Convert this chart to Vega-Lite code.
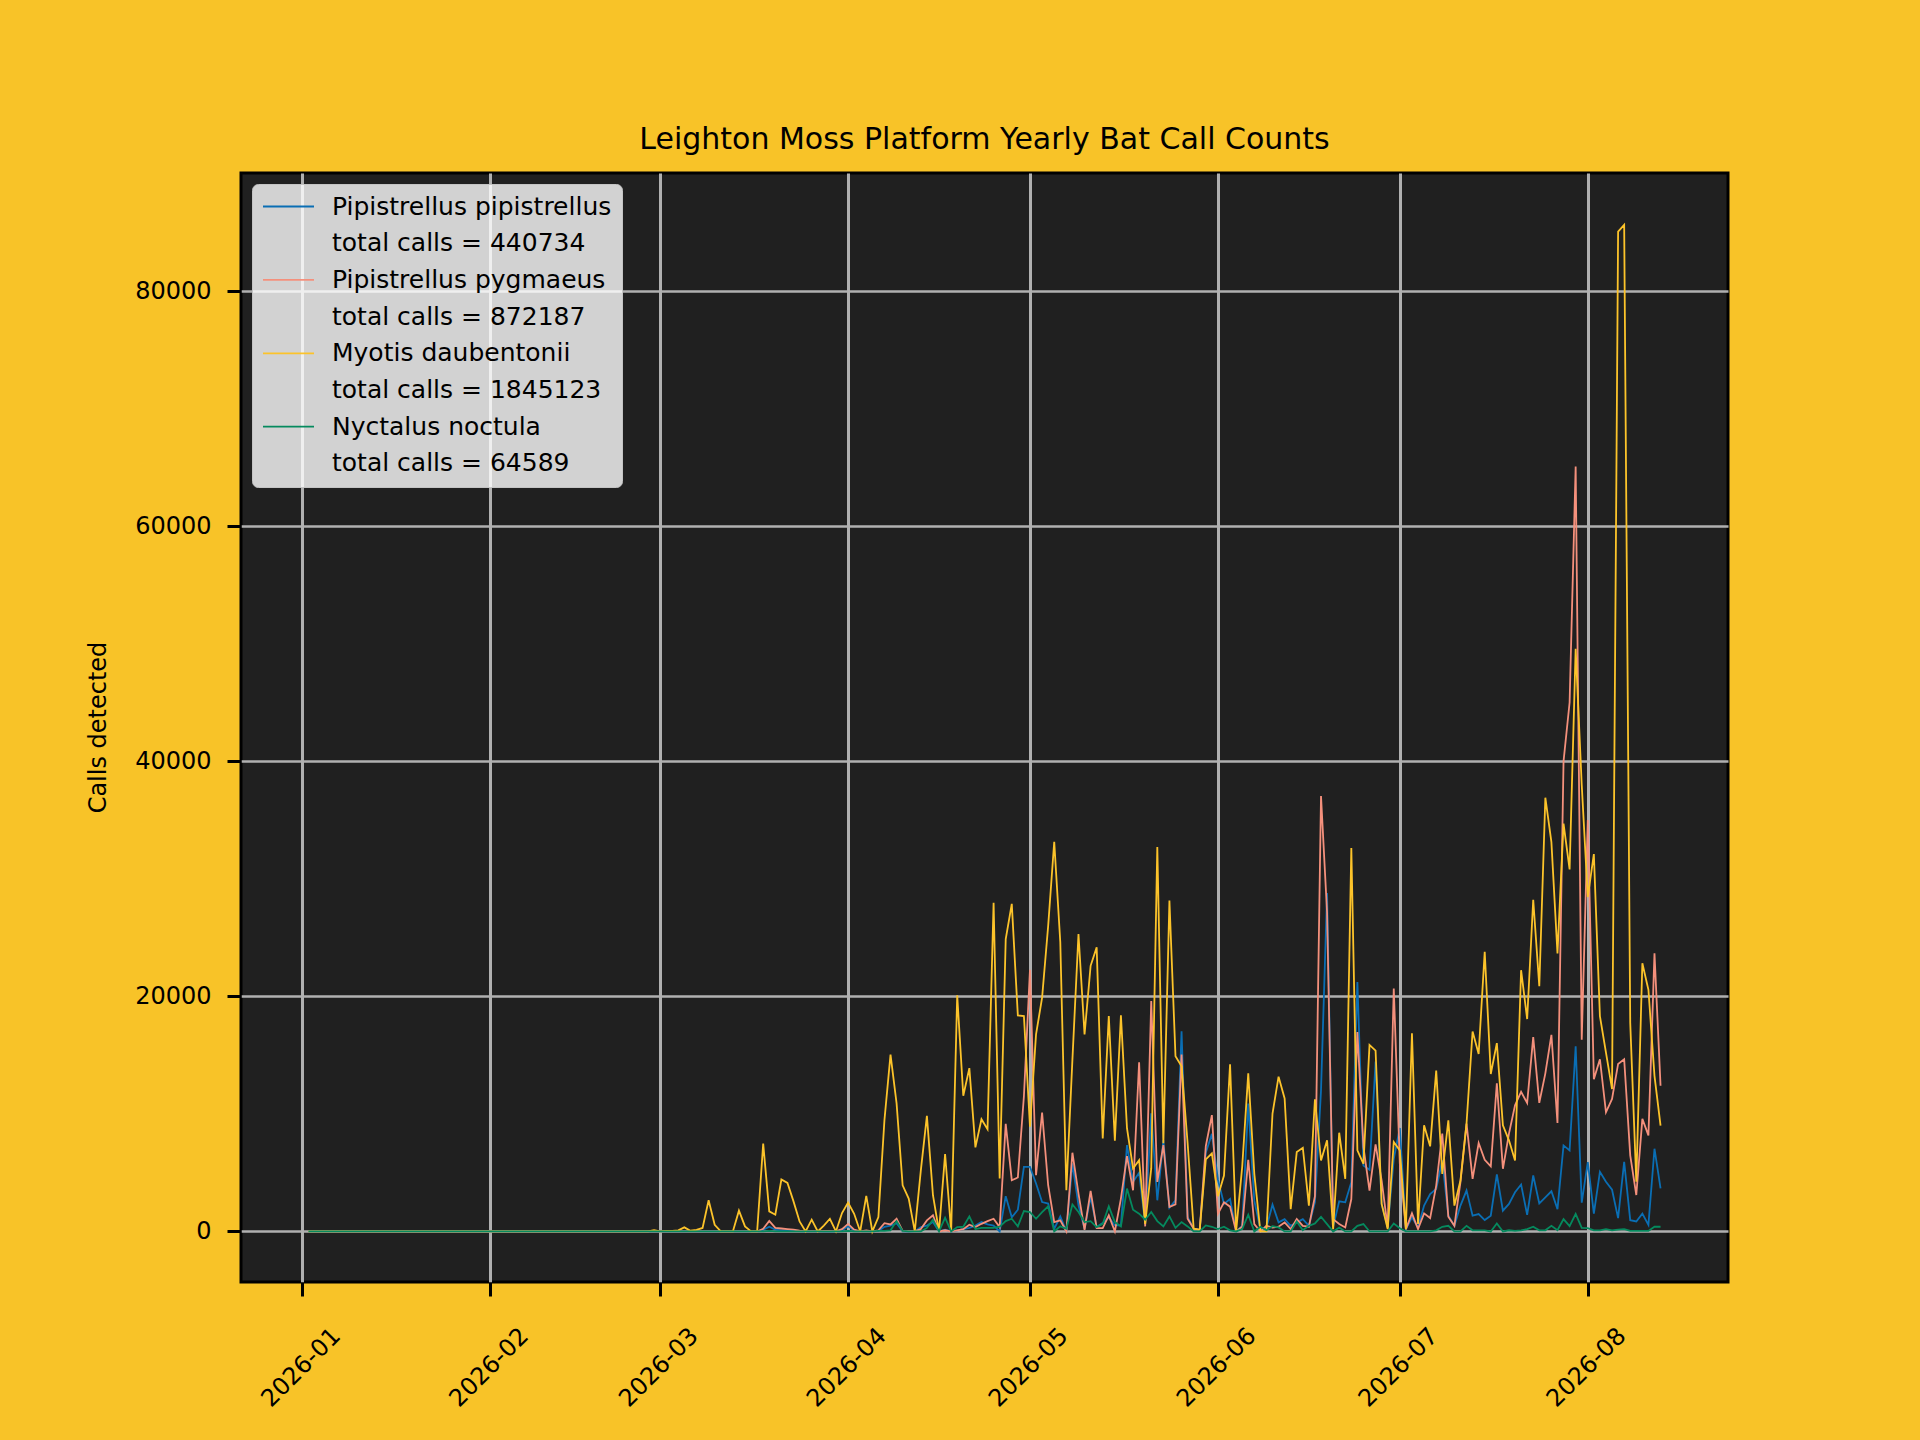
{
  "$schema": "https://vega.github.io/schema/vega-lite/v6.json",
  "width": 1487,
  "height": 1109,
  "autosize": {"type": "none"},
  "padding": {"left": 241, "top": 173, "right": 192, "bottom": 158},
  "background": "#f8c328",
  "config": {
    "font": "DejaVu Sans",
    "view": {"fill": "#202020", "stroke": "black", "strokeWidth": 3},
    "axis": {
      "domain": false,
      "grid": true,
      "gridColor": "#b0b0b0",
      "gridWidth": 2.5,
      "tickColor": "black",
      "tickWidth": 3,
      "tickSize": 14,
      "labelFont": "DejaVu Sans",
      "labelFontSize": 24,
      "labelColor": "black",
      "titleFont": "DejaVu Sans",
      "titleFontSize": 24,
      "titleFontWeight": "normal",
      "titleColor": "black"
    }
  },
  "title": {
    "text": "Leighton Moss Platform Yearly Bat Call Counts",
    "font": "DejaVu Sans",
    "fontSize": 30,
    "fontWeight": "normal",
    "color": "black",
    "anchor": "middle",
    "baseline": "alphabetic",
    "offset": 26,
    "dy": 31.5
  },
  "data": {
    "values": [
      {"date": "2026-01-02", "pip": 0, "pyg": 0, "dau": 0, "noc": 0},
      {"date": "2026-01-03", "pip": 0, "pyg": 0, "dau": 0, "noc": 0},
      {"date": "2026-01-04", "pip": 0, "pyg": 0, "dau": 0, "noc": 0},
      {"date": "2026-01-05", "pip": 0, "pyg": 0, "dau": 0, "noc": 0},
      {"date": "2026-01-06", "pip": 0, "pyg": 0, "dau": 0, "noc": 0},
      {"date": "2026-01-07", "pip": 0, "pyg": 0, "dau": 0, "noc": 0},
      {"date": "2026-01-08", "pip": 0, "pyg": 0, "dau": 0, "noc": 0},
      {"date": "2026-01-09", "pip": 0, "pyg": 0, "dau": 0, "noc": 0},
      {"date": "2026-01-10", "pip": 0, "pyg": 0, "dau": 0, "noc": 0},
      {"date": "2026-01-11", "pip": 0, "pyg": 0, "dau": 0, "noc": 0},
      {"date": "2026-01-12", "pip": 0, "pyg": 0, "dau": 0, "noc": 0},
      {"date": "2026-01-13", "pip": 0, "pyg": 0, "dau": 0, "noc": 0},
      {"date": "2026-01-14", "pip": 0, "pyg": 0, "dau": 0, "noc": 0},
      {"date": "2026-01-15", "pip": 0, "pyg": 0, "dau": 0, "noc": 0},
      {"date": "2026-01-16", "pip": 0, "pyg": 0, "dau": 0, "noc": 0},
      {"date": "2026-01-17", "pip": 0, "pyg": 0, "dau": 0, "noc": 0},
      {"date": "2026-01-18", "pip": 0, "pyg": 0, "dau": 0, "noc": 0},
      {"date": "2026-01-19", "pip": 0, "pyg": 0, "dau": 0, "noc": 0},
      {"date": "2026-01-20", "pip": 0, "pyg": 0, "dau": 0, "noc": 0},
      {"date": "2026-01-21", "pip": 0, "pyg": 0, "dau": 0, "noc": 0},
      {"date": "2026-01-22", "pip": 0, "pyg": 0, "dau": 0, "noc": 0},
      {"date": "2026-01-23", "pip": 0, "pyg": 0, "dau": 0, "noc": 0},
      {"date": "2026-01-24", "pip": 0, "pyg": 0, "dau": 0, "noc": 0},
      {"date": "2026-01-25", "pip": 0, "pyg": 0, "dau": 0, "noc": 0},
      {"date": "2026-01-26", "pip": 0, "pyg": 0, "dau": 0, "noc": 0},
      {"date": "2026-01-27", "pip": 0, "pyg": 0, "dau": 0, "noc": 0},
      {"date": "2026-01-28", "pip": 0, "pyg": 0, "dau": 0, "noc": 0},
      {"date": "2026-01-29", "pip": 0, "pyg": 0, "dau": 0, "noc": 0},
      {"date": "2026-01-30", "pip": 0, "pyg": 0, "dau": 0, "noc": 0},
      {"date": "2026-01-31", "pip": 0, "pyg": 0, "dau": 0, "noc": 0},
      {"date": "2026-02-01", "pip": 0, "pyg": 0, "dau": 0, "noc": 0},
      {"date": "2026-02-02", "pip": 0, "pyg": 0, "dau": 0, "noc": 0},
      {"date": "2026-02-03", "pip": 0, "pyg": 0, "dau": 0, "noc": 0},
      {"date": "2026-02-04", "pip": 0, "pyg": 0, "dau": 0, "noc": 0},
      {"date": "2026-02-05", "pip": 0, "pyg": 0, "dau": 0, "noc": 0},
      {"date": "2026-02-06", "pip": 0, "pyg": 0, "dau": 0, "noc": 0},
      {"date": "2026-02-07", "pip": 0, "pyg": 0, "dau": 0, "noc": 0},
      {"date": "2026-02-08", "pip": 0, "pyg": 0, "dau": 0, "noc": 0},
      {"date": "2026-02-09", "pip": 0, "pyg": 0, "dau": 0, "noc": 0},
      {"date": "2026-02-10", "pip": 0, "pyg": 0, "dau": 0, "noc": 0},
      {"date": "2026-02-11", "pip": 0, "pyg": 0, "dau": 0, "noc": 0},
      {"date": "2026-02-12", "pip": 0, "pyg": 0, "dau": 0, "noc": 0},
      {"date": "2026-02-13", "pip": 0, "pyg": 0, "dau": 0, "noc": 0},
      {"date": "2026-02-14", "pip": 0, "pyg": 0, "dau": 0, "noc": 0},
      {"date": "2026-02-15", "pip": 0, "pyg": 0, "dau": 0, "noc": 0},
      {"date": "2026-02-16", "pip": 0, "pyg": 0, "dau": 0, "noc": 0},
      {"date": "2026-02-17", "pip": 0, "pyg": 0, "dau": 0, "noc": 0},
      {"date": "2026-02-18", "pip": 0, "pyg": 0, "dau": 0, "noc": 0},
      {"date": "2026-02-19", "pip": 0, "pyg": 0, "dau": 0, "noc": 0},
      {"date": "2026-02-20", "pip": 0, "pyg": 0, "dau": 0, "noc": 0},
      {"date": "2026-02-21", "pip": 0, "pyg": 0, "dau": 0, "noc": 0},
      {"date": "2026-02-22", "pip": 0, "pyg": 0, "dau": 0, "noc": 0},
      {"date": "2026-02-23", "pip": 0, "pyg": 0, "dau": 0, "noc": 0},
      {"date": "2026-02-24", "pip": 0, "pyg": 0, "dau": 0, "noc": 0},
      {"date": "2026-02-25", "pip": 0, "pyg": 0, "dau": 0, "noc": 0},
      {"date": "2026-02-26", "pip": 0, "pyg": 0, "dau": 0, "noc": 0},
      {"date": "2026-02-27", "pip": 0, "pyg": 0, "dau": 0, "noc": 0},
      {"date": "2026-02-28", "pip": 0, "pyg": 0, "dau": 100, "noc": 0},
      {"date": "2026-03-01", "pip": 0, "pyg": 0, "dau": 0, "noc": 0},
      {"date": "2026-03-02", "pip": 0, "pyg": 0, "dau": 50, "noc": 0},
      {"date": "2026-03-03", "pip": 0, "pyg": 0, "dau": 40, "noc": 0},
      {"date": "2026-03-04", "pip": 0, "pyg": 0, "dau": 100, "noc": 0},
      {"date": "2026-03-05", "pip": 0, "pyg": 0, "dau": 350, "noc": 0},
      {"date": "2026-03-06", "pip": 0, "pyg": 0, "dau": 60, "noc": 0},
      {"date": "2026-03-07", "pip": 0, "pyg": 0, "dau": 140, "noc": 0},
      {"date": "2026-03-08", "pip": 0, "pyg": 0, "dau": 300, "noc": 0},
      {"date": "2026-03-09", "pip": 0, "pyg": 0, "dau": 2650, "noc": 0},
      {"date": "2026-03-10", "pip": 0, "pyg": 0, "dau": 570, "noc": 0},
      {"date": "2026-03-11", "pip": 0, "pyg": 0, "dau": 0, "noc": 0},
      {"date": "2026-03-12", "pip": 0, "pyg": 0, "dau": 0, "noc": 0},
      {"date": "2026-03-13", "pip": 0, "pyg": 0, "dau": 0, "noc": 0},
      {"date": "2026-03-14", "pip": 0, "pyg": 0, "dau": 1770, "noc": 0},
      {"date": "2026-03-15", "pip": 0, "pyg": 0, "dau": 430, "noc": 0},
      {"date": "2026-03-16", "pip": 0, "pyg": 0, "dau": 0, "noc": 0},
      {"date": "2026-03-17", "pip": 0, "pyg": 0, "dau": 0, "noc": 0},
      {"date": "2026-03-18", "pip": 150, "pyg": 230, "dau": 7470, "noc": 0},
      {"date": "2026-03-19", "pip": 400, "pyg": 900, "dau": 1710, "noc": 50},
      {"date": "2026-03-20", "pip": 150, "pyg": 300, "dau": 1425, "noc": 0},
      {"date": "2026-03-21", "pip": 100, "pyg": 250, "dau": 4420, "noc": 0},
      {"date": "2026-03-22", "pip": 80, "pyg": 200, "dau": 4130, "noc": 0},
      {"date": "2026-03-23", "pip": 50, "pyg": 150, "dau": 2560, "noc": 0},
      {"date": "2026-03-24", "pip": 30, "pyg": 60, "dau": 855, "noc": 0},
      {"date": "2026-03-25", "pip": 0, "pyg": 0, "dau": 0, "noc": 0},
      {"date": "2026-03-26", "pip": 0, "pyg": 30, "dau": 1000, "noc": 0},
      {"date": "2026-03-27", "pip": 0, "pyg": 0, "dau": 0, "noc": 0},
      {"date": "2026-03-28", "pip": 0, "pyg": 40, "dau": 500, "noc": 0},
      {"date": "2026-03-29", "pip": 0, "pyg": 50, "dau": 1080, "noc": 0},
      {"date": "2026-03-30", "pip": 0, "pyg": 0, "dau": 0, "noc": 0},
      {"date": "2026-03-31", "pip": 100, "pyg": 200, "dau": 1570, "noc": 0},
      {"date": "2026-04-01", "pip": 450, "pyg": 640, "dau": 2450, "noc": 50},
      {"date": "2026-04-02", "pip": 100, "pyg": 150, "dau": 1500, "noc": 0},
      {"date": "2026-04-03", "pip": 0, "pyg": 0, "dau": 0, "noc": 0},
      {"date": "2026-04-04", "pip": 50, "pyg": 80, "dau": 3020, "noc": 0},
      {"date": "2026-04-05", "pip": 0, "pyg": 0, "dau": 0, "noc": 0},
      {"date": "2026-04-06", "pip": 50, "pyg": 100, "dau": 1220, "noc": 50},
      {"date": "2026-04-07", "pip": 400, "pyg": 700, "dau": 9490, "noc": 50},
      {"date": "2026-04-08", "pip": 500, "pyg": 600, "dau": 15050, "noc": 100},
      {"date": "2026-04-09", "pip": 700, "pyg": 1080, "dau": 10900, "noc": 880},
      {"date": "2026-04-10", "pip": 0, "pyg": 50, "dau": 3930, "noc": 50},
      {"date": "2026-04-11", "pip": 0, "pyg": 30, "dau": 2800, "noc": 0},
      {"date": "2026-04-12", "pip": 0, "pyg": 0, "dau": 0, "noc": 0},
      {"date": "2026-04-13", "pip": 370, "pyg": 200, "dau": 5200, "noc": 0},
      {"date": "2026-04-14", "pip": 500, "pyg": 940, "dau": 9830, "noc": 300},
      {"date": "2026-04-15", "pip": 800, "pyg": 1370, "dau": 3080, "noc": 1000},
      {"date": "2026-04-16", "pip": 0, "pyg": 0, "dau": 0, "noc": 0},
      {"date": "2026-04-17", "pip": 150, "pyg": 100, "dau": 6580, "noc": 1170},
      {"date": "2026-04-18", "pip": 0, "pyg": 0, "dau": 0, "noc": 0},
      {"date": "2026-04-19", "pip": 100, "pyg": 100, "dau": 20090, "noc": 370},
      {"date": "2026-04-20", "pip": 200, "pyg": 200, "dau": 11540, "noc": 400},
      {"date": "2026-04-21", "pip": 300, "pyg": 570, "dau": 13900, "noc": 1280},
      {"date": "2026-04-22", "pip": 500, "pyg": 370, "dau": 7150, "noc": 200},
      {"date": "2026-04-23", "pip": 800, "pyg": 650, "dau": 9550, "noc": 300},
      {"date": "2026-04-24", "pip": 600, "pyg": 880, "dau": 8700, "noc": 300},
      {"date": "2026-04-25", "pip": 500, "pyg": 1080, "dau": 27960, "noc": 300},
      {"date": "2026-04-26", "pip": 0, "pyg": 370, "dau": 4500, "noc": 400},
      {"date": "2026-04-27", "pip": 3000, "pyg": 9150, "dau": 24880, "noc": 880},
      {"date": "2026-04-28", "pip": 1200, "pyg": 4360, "dau": 27870, "noc": 1080},
      {"date": "2026-04-29", "pip": 1850, "pyg": 4590, "dau": 18380, "noc": 430},
      {"date": "2026-04-30", "pip": 5500, "pyg": 11500, "dau": 18330, "noc": 1740},
      {"date": "2026-05-01", "pip": 5500, "pyg": 22260, "dau": 8920, "noc": 1650},
      {"date": "2026-05-02", "pip": 4080, "pyg": 4790, "dau": 16760, "noc": 1080},
      {"date": "2026-05-03", "pip": 2500, "pyg": 10120, "dau": 19900, "noc": 1650},
      {"date": "2026-05-04", "pip": 2370, "pyg": 3930, "dau": 26000, "noc": 2140},
      {"date": "2026-05-05", "pip": 230, "pyg": 800, "dau": 33150, "noc": 0},
      {"date": "2026-05-06", "pip": 1280, "pyg": 940, "dau": 24600, "noc": 430},
      {"date": "2026-05-07", "pip": 0, "pyg": 0, "dau": 3500, "noc": 230},
      {"date": "2026-05-08", "pip": 5790, "pyg": 6700, "dau": 14620, "noc": 2300},
      {"date": "2026-05-09", "pip": 2220, "pyg": 3220, "dau": 25300, "noc": 1650},
      {"date": "2026-05-10", "pip": 230, "pyg": 140, "dau": 16760, "noc": 800},
      {"date": "2026-05-11", "pip": 2940, "pyg": 3450, "dau": 22600, "noc": 880},
      {"date": "2026-05-12", "pip": 370, "pyg": 290, "dau": 24170, "noc": 370},
      {"date": "2026-05-13", "pip": 710, "pyg": 290, "dau": 7920, "noc": 650},
      {"date": "2026-05-14", "pip": 1220, "pyg": 1370, "dau": 18330, "noc": 2140},
      {"date": "2026-05-15", "pip": 510, "pyg": 0, "dau": 7720, "noc": 800},
      {"date": "2026-05-16", "pip": 510, "pyg": 2800, "dau": 18380, "noc": 430},
      {"date": "2026-05-17", "pip": 7350, "pyg": 6410, "dau": 8780, "noc": 3650},
      {"date": "2026-05-18", "pip": 4220, "pyg": 3500, "dau": 5360, "noc": 1850},
      {"date": "2026-05-19", "pip": 5000, "pyg": 14400, "dau": 6070, "noc": 1510},
      {"date": "2026-05-20", "pip": 650, "pyg": 430, "dau": 650, "noc": 1000},
      {"date": "2026-05-21", "pip": 10060, "pyg": 19600, "dau": 5360, "noc": 1650},
      {"date": "2026-05-22", "pip": 2650, "pyg": 4220, "dau": 32700, "noc": 880},
      {"date": "2026-05-23", "pip": 7780, "pyg": 7350, "dau": 7500, "noc": 430},
      {"date": "2026-05-24", "pip": 2020, "pyg": 2080, "dau": 28160, "noc": 1280},
      {"date": "2026-05-25", "pip": 2650, "pyg": 2300, "dau": 14900, "noc": 310},
      {"date": "2026-05-26", "pip": 17040, "pyg": 15050, "dau": 14050, "noc": 800},
      {"date": "2026-05-27", "pip": 1220, "pyg": 1080, "dau": 7500, "noc": 430},
      {"date": "2026-05-28", "pip": 230, "pyg": 230, "dau": 230, "noc": 0},
      {"date": "2026-05-29", "pip": 140, "pyg": 140, "dau": 140, "noc": 0},
      {"date": "2026-05-30", "pip": 6700, "pyg": 7270, "dau": 6130, "noc": 510},
      {"date": "2026-05-31", "pip": 8300, "pyg": 9900, "dau": 6640, "noc": 400},
      {"date": "2026-06-01", "pip": 4400, "pyg": 1500, "dau": 3000, "noc": 200},
      {"date": "2026-06-02", "pip": 2340, "pyg": 2480, "dau": 4760, "noc": 400},
      {"date": "2026-06-03", "pip": 2760, "pyg": 2110, "dau": 14220, "noc": 100},
      {"date": "2026-06-04", "pip": 0, "pyg": 0, "dau": 0, "noc": 0},
      {"date": "2026-06-05", "pip": 480, "pyg": 400, "dau": 5500, "noc": 200},
      {"date": "2026-06-06", "pip": 10890, "pyg": 6100, "dau": 13450, "noc": 1420},
      {"date": "2026-06-07", "pip": 2620, "pyg": 630, "dau": 4900, "noc": 0},
      {"date": "2026-06-08", "pip": 200, "pyg": 0, "dau": 0, "noc": 400},
      {"date": "2026-06-09", "pip": 340, "pyg": 480, "dau": 0, "noc": 100},
      {"date": "2026-06-10", "pip": 2280, "pyg": 340, "dau": 10030, "noc": 450},
      {"date": "2026-06-11", "pip": 770, "pyg": 400, "dau": 13170, "noc": 340},
      {"date": "2026-06-12", "pip": 1050, "pyg": 770, "dau": 11310, "noc": 0},
      {"date": "2026-06-13", "pip": 480, "pyg": 200, "dau": 1900, "noc": 0},
      {"date": "2026-06-14", "pip": 770, "pyg": 1050, "dau": 6750, "noc": 850},
      {"date": "2026-06-15", "pip": 1050, "pyg": 480, "dau": 7120, "noc": 100},
      {"date": "2026-06-16", "pip": 480, "pyg": 400, "dau": 2200, "noc": 480},
      {"date": "2026-06-17", "pip": 2500, "pyg": 3000, "dau": 11250, "noc": 680},
      {"date": "2026-06-18", "pip": 12000, "pyg": 37050, "dau": 6040, "noc": 1250},
      {"date": "2026-06-19", "pip": 28800, "pyg": 27130, "dau": 7750, "noc": 630},
      {"date": "2026-06-20", "pip": 400, "pyg": 1050, "dau": 200, "noc": 0},
      {"date": "2026-06-21", "pip": 2570, "pyg": 630, "dau": 8400, "noc": 340},
      {"date": "2026-06-22", "pip": 2480, "pyg": 340, "dau": 4470, "noc": 0},
      {"date": "2026-06-23", "pip": 4190, "pyg": 2760, "dau": 32630, "noc": 0},
      {"date": "2026-06-24", "pip": 21230, "pyg": 16960, "dau": 6900, "noc": 480},
      {"date": "2026-06-25", "pip": 5610, "pyg": 7180, "dau": 5760, "noc": 630},
      {"date": "2026-06-26", "pip": 5240, "pyg": 3480, "dau": 15870, "noc": 0},
      {"date": "2026-06-27", "pip": 14450, "pyg": 7410, "dau": 15390, "noc": 0},
      {"date": "2026-06-28", "pip": 2340, "pyg": 4330, "dau": 2340, "noc": 0},
      {"date": "2026-06-29", "pip": 340, "pyg": 340, "dau": 200, "noc": 0},
      {"date": "2026-06-30", "pip": 6180, "pyg": 20660, "dau": 7610, "noc": 680},
      {"date": "2026-07-01", "pip": 8800, "pyg": 5760, "dau": 6900, "noc": 280},
      {"date": "2026-07-02", "pip": 200, "pyg": 200, "dau": 200, "noc": 0},
      {"date": "2026-07-03", "pip": 1200, "pyg": 1540, "dau": 16870, "noc": 0},
      {"date": "2026-07-04", "pip": 340, "pyg": 200, "dau": 630, "noc": 0},
      {"date": "2026-07-05", "pip": 2200, "pyg": 1540, "dau": 9030, "noc": 0},
      {"date": "2026-07-06", "pip": 3190, "pyg": 1140, "dau": 7240, "noc": 0},
      {"date": "2026-07-07", "pip": 3620, "pyg": 3900, "dau": 13680, "noc": 100},
      {"date": "2026-07-08", "pip": 6040, "pyg": 8320, "dau": 4900, "noc": 400},
      {"date": "2026-07-09", "pip": 1340, "pyg": 1250, "dau": 9460, "noc": 480},
      {"date": "2026-07-10", "pip": 480, "pyg": 480, "dau": 2200, "noc": 0},
      {"date": "2026-07-11", "pip": 2200, "pyg": 4190, "dau": 4330, "noc": 0},
      {"date": "2026-07-12", "pip": 3480, "pyg": 9180, "dau": 9180, "noc": 480},
      {"date": "2026-07-13", "pip": 1340, "pyg": 4470, "dau": 17010, "noc": 100},
      {"date": "2026-07-14", "pip": 1480, "pyg": 7520, "dau": 15100, "noc": 100},
      {"date": "2026-07-15", "pip": 970, "pyg": 6100, "dau": 23800, "noc": 100},
      {"date": "2026-07-16", "pip": 1340, "pyg": 5530, "dau": 13400, "noc": 0},
      {"date": "2026-07-17", "pip": 4850, "pyg": 12600, "dau": 16020, "noc": 680},
      {"date": "2026-07-18", "pip": 1770, "pyg": 5330, "dau": 9030, "noc": 0},
      {"date": "2026-07-19", "pip": 2340, "pyg": 8320, "dau": 7750, "noc": 100},
      {"date": "2026-07-20", "pip": 3330, "pyg": 10740, "dau": 6040, "noc": 50},
      {"date": "2026-07-21", "pip": 3990, "pyg": 11880, "dau": 22230, "noc": 100},
      {"date": "2026-07-22", "pip": 1420, "pyg": 10940, "dau": 18070, "noc": 200},
      {"date": "2026-07-23", "pip": 4760, "pyg": 16530, "dau": 28220, "noc": 400},
      {"date": "2026-07-24", "pip": 2390, "pyg": 10940, "dau": 20860, "noc": 100},
      {"date": "2026-07-25", "pip": 2900, "pyg": 13450, "dau": 36900, "noc": 100},
      {"date": "2026-07-26", "pip": 3420, "pyg": 16730, "dau": 33120, "noc": 480},
      {"date": "2026-07-27", "pip": 1900, "pyg": 9230, "dau": 23660, "noc": 100},
      {"date": "2026-07-28", "pip": 7320, "pyg": 40000, "dau": 34700, "noc": 1050},
      {"date": "2026-07-29", "pip": 6900, "pyg": 45000, "dau": 30800, "noc": 450},
      {"date": "2026-07-30", "pip": 15750, "pyg": 65070, "dau": 49580, "noc": 1500},
      {"date": "2026-07-31", "pip": 2450, "pyg": 16320, "dau": 38000, "noc": 300},
      {"date": "2026-08-01", "pip": 5900, "pyg": 35000, "dau": 28450, "noc": 280},
      {"date": "2026-08-02", "pip": 1520, "pyg": 12960, "dau": 32100, "noc": 100},
      {"date": "2026-08-03", "pip": 5070, "pyg": 14650, "dau": 18310, "noc": 100},
      {"date": "2026-08-04", "pip": 4230, "pyg": 10140, "dau": 15210, "noc": 200},
      {"date": "2026-08-05", "pip": 3550, "pyg": 11270, "dau": 12110, "noc": 100},
      {"date": "2026-08-06", "pip": 1130, "pyg": 14250, "dau": 85070, "noc": 150},
      {"date": "2026-08-07", "pip": 5920, "pyg": 14650, "dau": 85640, "noc": 200},
      {"date": "2026-08-08", "pip": 960, "pyg": 6480, "dau": 17750, "noc": 50},
      {"date": "2026-08-09", "pip": 850, "pyg": 3100, "dau": 4230, "noc": 50},
      {"date": "2026-08-10", "pip": 1520, "pyg": 9580, "dau": 22820, "noc": 50},
      {"date": "2026-08-11", "pip": 560, "pyg": 8170, "dau": 20560, "noc": 50},
      {"date": "2026-08-12", "pip": 7040, "pyg": 23660, "dau": 13240, "noc": 400},
      {"date": "2026-08-13", "pip": 3660, "pyg": 12400, "dau": 9010, "noc": 400}
    ]
  },
  "encoding": {
    "x": {
      "field": "date",
      "type": "temporal",
      "scale": {
        "type": "utc",
        "domain": [
          {"year": 2025, "month": 12, "date": 21, "hours": 21, "utc": true},
          {"year": 2026, "month": 8, "date": 24, "hours": 3, "utc": true}
        ]
      },
      "axis": {
        "title": null,
        "format": "%Y-%m",
        "tickCount": {"interval": "month", "step": 1},
        "labelAngle": -45,
        "labelAlign": "right",
        "labelBaseline": "middle",
        "labelOffset": 34,
        "labelPadding": 36,
        "gridWidth": 3
      }
    }
  },
  "layer": [
    {
      "mark": {"type": "line", "strokeWidth": 1.8},
      "encoding": {
        "y": {
          "field": "pip",
          "type": "quantitative",
          "scale": {"domain": [-4300, 90050], "nice": false, "zero": false},
          "axis": {
            "title": "Calls detected",
            "values": [0, 20000, 40000, 60000, 80000],
            "format": "d",
            "labelPadding": 16,
            "titleAngle": -90,
            "titleX": -143,
            "titleY": 554,
            "titleAlign": "center",
            "titleBaseline": "middle"
          }
        },
        "color": {
          "datum": "Pipistrellus pipistrellus",
          "type": "nominal",
          "scale": {
            "domain": [
              "Pipistrellus pipistrellus",
              "total calls = 440734",
              "Pipistrellus pygmaeus",
              "total calls = 872187",
              "Myotis daubentonii",
              "total calls = 1845123",
              "Nyctalus noctula",
              "total calls = 64589"
            ],
            "range": ["#0a6eb4", "transparent", "#f4907c", "transparent", "#fcc32a", "transparent", "#058a5e", "transparent"]
          },
          "legend": {
            "title": null,
            "orient": "top-left",
            "offset": 11,
            "padding": 10,
            "fillColor": "rgba(255,255,255,0.8)",
            "strokeColor": "#c4c4c4",
            "cornerRadius": 6,
            "symbolType": "stroke",
            "symbolSize": 2600,
            "symbolStrokeWidth": 1.8,
            "clipHeight": 25,
            "rowPadding": 10.7,
            "labelOffset": 17,
            "labelFont": "DejaVu Sans",
            "labelFontSize": 25,
            "labelColor": "black",
            "labelLimit": 0
          }
        }
      }
    },
    {
      "mark": {"type": "line", "strokeWidth": 1.8},
      "encoding": {
        "y": {"field": "pyg", "type": "quantitative"},
        "color": {"datum": "Pipistrellus pygmaeus", "type": "nominal"}
      }
    },
    {
      "mark": {"type": "line", "strokeWidth": 1.8},
      "encoding": {
        "y": {"field": "dau", "type": "quantitative"},
        "color": {"datum": "Myotis daubentonii", "type": "nominal"}
      }
    },
    {
      "mark": {"type": "line", "strokeWidth": 1.8},
      "encoding": {
        "y": {"field": "noc", "type": "quantitative"},
        "color": {"datum": "Nyctalus noctula", "type": "nominal"}
      }
    }
  ]
}
